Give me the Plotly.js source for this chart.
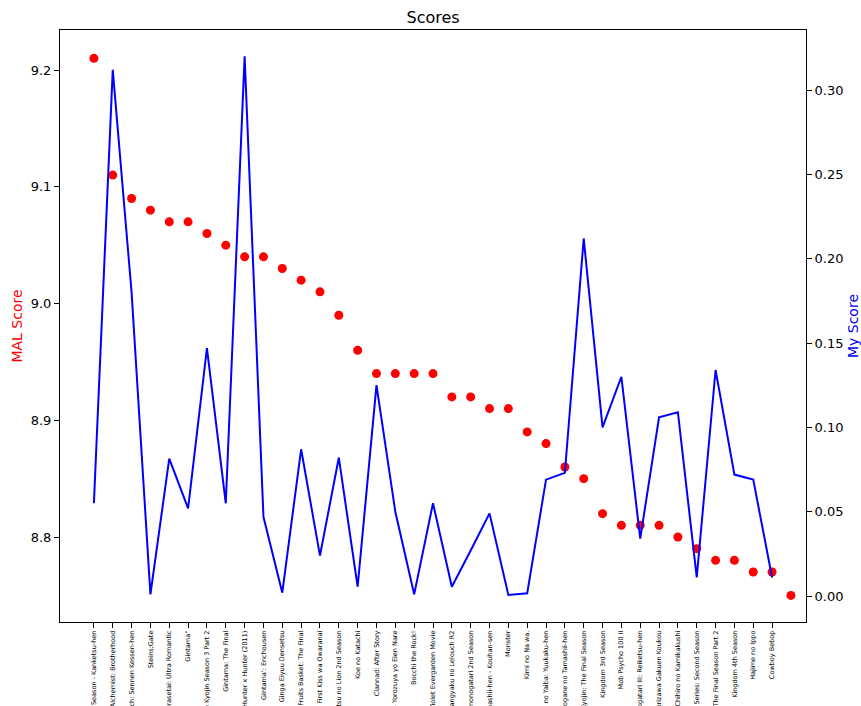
<!DOCTYPE html>
<html>
<head>
<meta charset="utf-8">
<script src="https://cdn.plot.ly/plotly-3.0.1.min.js"></script>
<style>html,body{margin:0;padding:0;background:#fff;}#chart{width:861px;height:706px;}</style>
</head>
<body>
<div id="chart"></div>
<script>
const titles = [
  "Shingeki no Kyojin: The Final Season - Kanketsu-hen",
  "Fullmetal Alchemist: Brotherhood",
  "Bleach: Sennen Kessen-hen",
  "Steins;Gate",
  "Kaguya-sama wa Kokurasetai: Ultra Romantic",
  "Gintama°",
  "Shingeki no Kyojin Season 3 Part 2",
  "Gintama: The Final",
  "Hunter x Hunter (2011)",
  "Gintama': Enchousen",
  "Ginga Eiyuu Densetsu",
  "Fruits Basket: The Final",
  "Kaguya-sama wa Kokurasetai: First Kiss wa Owaranai",
  "3-gatsu no Lion 2nd Season",
  "Koe no Katachi",
  "Clannad: After Story",
  "Gintama Movie 2: Kanketsu-hen - Yorozuya yo Eien Nare",
  "Bocchi the Rock!",
  "Violet Evergarden Movie",
  "Code Geass: Hangyaku no Lelouch R2",
  "Owarimonogatari 2nd Season",
  "Gintama.: Shirogane no Tamashii-hen - Kouhan-sen",
  "Monster",
  "Kimi no Na wa.",
  "Kimetsu no Yaiba: Yuukaku-hen",
  "Gintama.: Shirogane no Tamashii-hen",
  "Shingeki no Kyojin: The Final Season",
  "Kingdom 3rd Season",
  "Mob Psycho 100 II",
  "Kizumonogatari III: Reiketsu-hen",
  "Haikyuu!! Karasuno Koukou vs. Shiratorizawa Gakuen Koukou",
  "Sen to Chihiro no Kamikakushi",
  "Monogatari Series: Second Season",
  "Shingeki no Kyojin: The Final Season Part 2",
  "Kingdom 4th Season",
  "Hajime no Ippo",
  "Cowboy Bebop"
];

const malScores = [9.21, 9.11, 9.09, 9.08, 9.07, 9.07, 9.06, 9.05, 9.04, 9.04,
  9.03, 9.02, 9.01, 8.99, 8.96, 8.94, 8.94, 8.94, 8.94, 8.92,
  8.92, 8.91, 8.91, 8.89, 8.88, 8.86, 8.85, 8.82, 8.81, 8.81,
  8.81, 8.80, 8.79, 8.78, 8.78, 8.77, 8.77, 8.75];

const myScores = [0.055, 0.312, 0.18, 0.001, 0.0815, 0.052, 0.147, 0.055, 0.32, 0.047,
  0.002, 0.087, 0.024, 0.082, 0.0055, 0.125, 0.05, 0.001, 0.055, 0.0055,
  0.027, 0.049, 0.0006, 0.0016, 0.069, 0.073, 0.212, 0.10, 0.13, 0.034,
  0.106, 0.109, 0.011, 0.134, 0.072, 0.069, 0.011];

const leftTicks = [8.8, 8.9, 9.0, 9.1, 9.2];
const rightTicks = [0.00, 0.05, 0.10, 0.15, 0.20, 0.25, 0.30];

const malX = malScores.map((_, i) => i);
const myX = myScores.map((_, i) => i);
const tickIdx = titles.map((_, i) => i);

const font = "DejaVu Sans, Liberation Sans, Arial, sans-serif";

const traces = [
  {
    type: "scatter", mode: "markers", x: malX, y: malScores,
    marker: {color: "#ff0000", size: 9}, yaxis: "y", name: "MAL Score",
    hoverinfo: "skip"
  },
  {
    type: "scatter", mode: "lines", x: myX, y: myScores,
    line: {color: "#0000ff", width: 2}, yaxis: "y2", name: "My Score",
    hoverinfo: "skip"
  }
];

const layout = {
  width: 861, height: 706,
  margin: {l: 60, r: 55, t: 30, b: 84, pad: 0},
  paper_bgcolor: "#ffffff", plot_bgcolor: "#ffffff",
  showlegend: false,
  font: {family: font, color: "#000000", size: 13},
  title: {text: "Scores", x: 0.503, xanchor: "center", y: 0.976, yanchor: "middle",
          font: {family: font, size: 16, color: "#000000"}},
  xaxis: {
    range: [-1.8, 37.8], tickmode: "array", tickvals: tickIdx, ticktext: titles,
    tickangle: -90, tickfont: {family: font, size: 6.5, color: "#000000"},
    showgrid: false, zeroline: false, showline: true, linecolor: "#000000", linewidth: 1,
    mirror: true, ticks: "outside", ticklen: 5, tickcolor: "#000000", automargin: false
  },
  yaxis: {
    range: [8.7272, 9.2343], tickmode: "array", tickvals: leftTicks,
    ticktext: leftTicks.map(v => v.toFixed(1)),
    tickfont: {family: font, size: 13, color: "#000000"},
    title: {text: "MAL Score", font: {family: font, size: 14, color: "#ff0000"}, standoff: 4},
    showgrid: false, zeroline: false, showline: true, linecolor: "#000000", linewidth: 1,
    ticks: "outside", ticklen: 5, tickcolor: "#000000", automargin: false
  },
  yaxis2: {
    overlaying: "y", side: "right",
    range: [-0.0154, 0.3356], tickmode: "array", tickvals: rightTicks,
    ticktext: rightTicks.map(v => v.toFixed(2)),
    tickfont: {family: font, size: 13, color: "#000000"},
    title: {text: "My Score", font: {family: font, size: 14, color: "#0000ff"}, standoff: 12},
    showgrid: false, zeroline: false, showline: true, linecolor: "#000000", linewidth: 1,
    ticks: "outside", ticklen: 5, tickcolor: "#000000", automargin: false
  }
};

Plotly.newPlot("chart", traces, layout, {staticPlot: true, displayModeBar: false});
</script>
</body>
</html>
